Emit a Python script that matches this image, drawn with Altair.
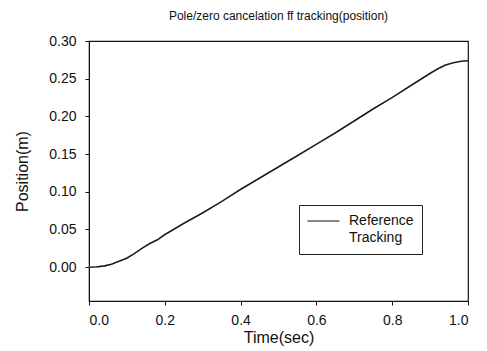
import altair as alt
import pandas as pd

time_s = [0.00, 0.02, 0.04, 0.06, 0.08, 0.10, 0.12, 0.14, 0.16, 0.18, 0.20,
          0.25, 0.30, 0.35, 0.40, 0.45, 0.50, 0.55, 0.60, 0.65, 0.70, 0.75,
          0.80, 0.85, 0.90, 0.92, 0.94, 0.96, 0.98, 1.00]
reference = [0.000, 0.0003, 0.0015, 0.004, 0.008, 0.012, 0.018, 0.025, 0.031, 0.036, 0.043,
             0.058, 0.072, 0.087, 0.103, 0.118, 0.133, 0.148, 0.163, 0.178, 0.194, 0.210,
             0.225, 0.241, 0.257, 0.263, 0.268, 0.271, 0.273, 0.274]
tracking = [0.000, 0.0003, 0.0015, 0.004, 0.008, 0.012, 0.018, 0.025, 0.031, 0.036, 0.043,
            0.058, 0.072, 0.087, 0.103, 0.118, 0.133, 0.148, 0.163, 0.178, 0.194, 0.210,
            0.225, 0.241, 0.257, 0.263, 0.268, 0.271, 0.273, 0.274]
series_names = ["Reference", "Tracking"]
x_ticks = [0.0, 0.2, 0.4, 0.6, 0.8, 1.0]
y_ticks = [0.00, 0.05, 0.10, 0.15, 0.20, 0.25, 0.30]

df = pd.concat([
    pd.DataFrame({"t": time_s, "pos": reference, "series": series_names[0]}),
    pd.DataFrame({"t": time_s, "pos": tracking, "series": series_names[1]}),
])
df_track = pd.DataFrame({"t": time_s, "pos": tracking})

FONT = "Liberation Sans"

x_enc = alt.X("t:Q", scale=alt.Scale(domain=[0, 1], nice=False),
              axis=alt.Axis(title="Time(sec)", values=x_ticks, format=".1f"))
y_enc = alt.Y("pos:Q", scale=alt.Scale(domain=[-0.045, 0.30], nice=False, zero=False),
              axis=alt.Axis(title="Position(m)", values=y_ticks, format=".2f"))

legend_layer = alt.Chart(df).mark_line(strokeWidth=1.4).encode(
    x=x_enc, y=y_enc,
    color=alt.Color("series:N",
                    scale=alt.Scale(domain=series_names, range=["#111111", "#ffffff"]),
                    legend=alt.Legend(title=None, orient="none", legendX=210, legendY=164,
                                      strokeColor="#222222", padding=8,
                                      symbolType="stroke", symbolSize=1024,
                                      symbolStrokeWidth=1, labelFontSize=14,
                                      labelFont=FONT, labelColor="#111111",
                                      labelOffset=9, rowPadding=1, clipHeight=16,
                                      labelLimit=200)),
    order=alt.Order("t:Q"),
)

track_layer = alt.Chart(df_track).mark_line(strokeWidth=1.4, color="#111111").encode(
    x="t:Q", y="pos:Q"
)

chart = alt.layer(legend_layer, track_layer).properties(
    width=379, height=260,
    title=alt.TitleParams("Pole/zero cancelation ff tracking(position)", fontSize=12,
                          font=FONT, fontWeight="normal", color="#111111", offset=11),
    padding={"left": 14, "top": 10, "right": 5, "bottom": 5},
).configure_view(
    stroke="#111111", strokeWidth=1.2
).configure_axis(
    grid=False, domainColor="#111111", tickColor="#111111", tickSize=4,
    labelFont=FONT, labelFontSize=14, labelColor="#111111",
    titleFont=FONT, titleFontSize=16, titleFontWeight="normal", titleColor="#111111",
).configure_axisY(
    labelPadding=9, titlePadding=18
).configure_axisX(
    labelPadding=8, titlePadding=2
)

chart.save("out.html", embed_options={"renderer": "svg", "actions": False})
